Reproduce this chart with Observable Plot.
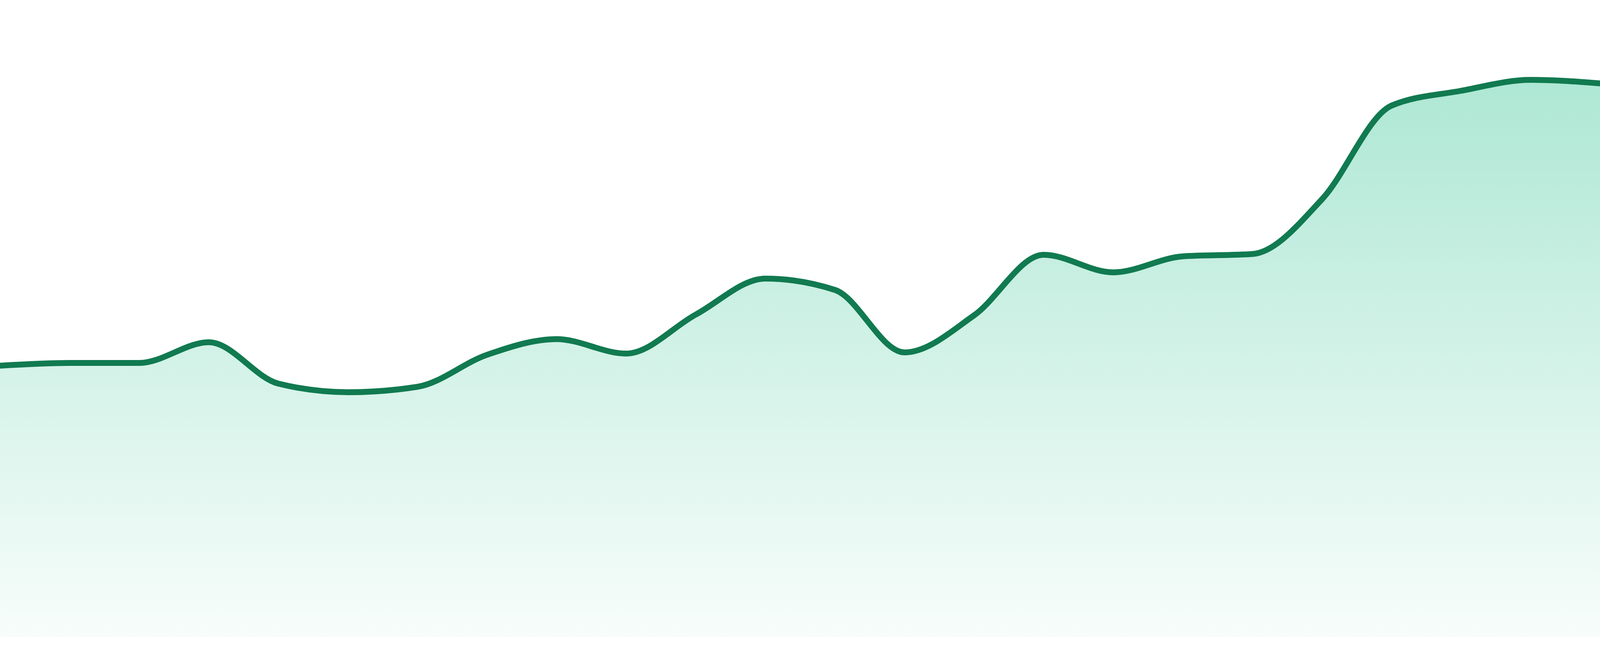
<!DOCTYPE html>
<html>
<head>
<meta charset="utf-8">
<script src="https://cdn.jsdelivr.net/npm/d3@7"></script>
<script src="https://cdn.jsdelivr.net/npm/@observablehq/plot@0.6"></script>
<style>
  html, body { margin: 0; padding: 0; background: #ffffff; overflow: hidden; }
  #chart svg { display: block; }
</style>
</head>
<body>
<div id="chart"></div>
<script>
// Data (no axes are shown; values are in arbitrary units)
const steps = [0,1,2,3,4,5,6,7,8,9,10,11,12,13,14,15,16,17,18,19,20,21,22,23];
const values = [69.6, 70.3, 70.3, 75.6, 65.0, 62.8, 64.2, 72.4, 76.4, 72.7, 82.7, 91.9,
                89.0, 73.0, 82.5, 98.0, 93.5, 97.6, 98.2, 112.2, 136.2, 140.0, 142.8, 141.9];

const data = steps.map((s, i) => ({step: s, value: values[i]}));

const lineColor = "#117a50";
const fillColor = "#10b981";

// fill the browser viewport (chart spans the full width, like the reference)
const W = Math.min(4800, window.innerWidth || 4800);
const H = 1680;

const defs = () => {
  const d = d3.create("svg:defs");
  const g = d.append("linearGradient")
    .attr("id", "areaGrad")
    .attr("x1", 0).attr("y1", 0).attr("x2", 0).attr("y2", 1);
  g.append("stop").attr("offset", "0%").attr("stop-color", fillColor).attr("stop-opacity", 0.34);
  g.append("stop").attr("offset", "100%").attr("stop-color", fillColor).attr("stop-opacity", 0.03);
  return d.node();
};

const chart = Plot.plot({
  width: W,
  height: H,
  marginTop: 0,
  marginRight: 0,
  marginBottom: 48,
  marginLeft: 0,
  x: {domain: [0, 23], axis: null},
  y: {domain: [0, 163.2], axis: null},
  marks: [
    defs,
    Plot.areaY(data, {x: "step", y: "value", curve: "monotone-x", fill: "url(#areaGrad)"}),
    Plot.line(data, {x: "step", y: "value", curve: "monotone-x", stroke: lineColor, strokeWidth: 15})
  ]
});

document.getElementById("chart").appendChild(chart);
</script>
</body>
</html>
